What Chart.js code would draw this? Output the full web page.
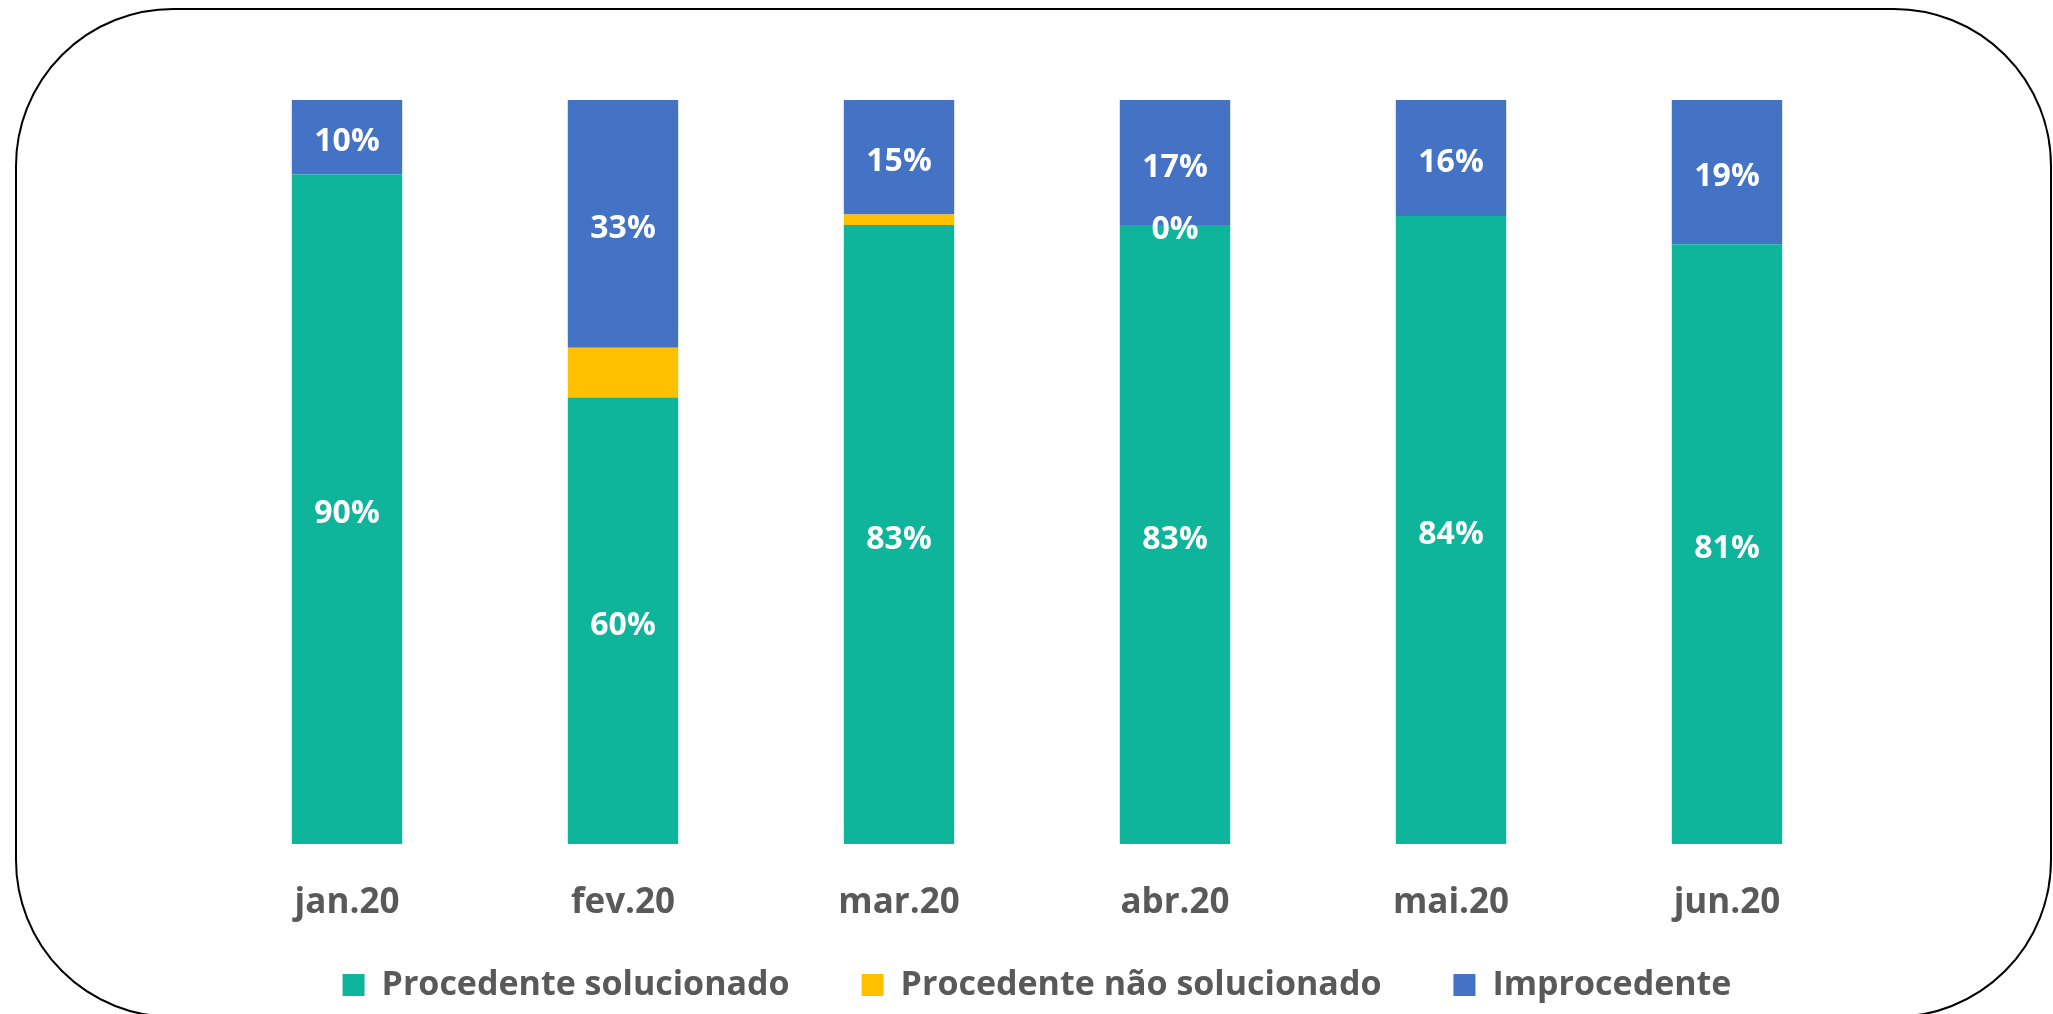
<!DOCTYPE html>
<html>
<head>
<meta charset="utf-8">
<script src="https://cdn.jsdelivr.net/npm/chart.js@4/dist/chart.umd.min.js"></script>
<style>
  html, body { margin: 0; padding: 0; background: #fff; }
  #wrap { position: relative; width: 2053px; height: 1014px; overflow: hidden; }
  #moldura {
    position: absolute; left: 15px; top: 8px; width: 2037px; height: 1010px;
    border: 2.5px solid #000; border-radius: 158px; box-sizing: border-box;
    pointer-events: none;
  }
</style>
</head>
<body>
<div id="wrap">
  <canvas id="grafico" width="2053" height="1014"></canvas>
  <div id="moldura"></div>
</div>
<script>
const meses = ['jan.20', 'fev.20', 'mar.20', 'abr.20', 'mai.20', 'jun.20'];
const procSolucionado = [90, 60, 83.2, 83.2, 84.4, 80.6];
const procNaoSolucionado = [null, 6.7, 1.4, 0, null, null];
const improcedente = [10, 33.3, 15.4, 16.8, 15.6, 19.4];
// only the 0% of abr.20 shows a label on the yellow series
const mostrarRotuloNaoSol = [false, false, false, true, false, false];

const cinza = '#595959';
const fonte = '"Open Sans", "Noto Sans", sans-serif';

const rotulos = {
  id: 'rotulos',
  afterDatasetsDraw(chart) {
    const ctx = chart.ctx;
    ctx.save();
    ctx.font = 'bold 32px ' + fonte;
    ctx.fillStyle = '#fff';
    ctx.textAlign = 'center';
    ctx.textBaseline = 'middle';
    chart.data.datasets.forEach((ds, i) => {
      const meta = chart.getDatasetMeta(i);
      meta.data.forEach((bar, j) => {
        const v = ds.data[j];
        if (v === null || v === undefined) return;
        if (i === 1 && !mostrarRotuloNaoSol[j]) return;
        const y = (bar.y + bar.base) / 2 + 5;
        ctx.fillText(Math.round(v) + '%', bar.x, y);
      });
    });
    ctx.restore();
  }
};

// the legend's wide item padding also pads it vertically, so let the
// x axis labels run down into that empty space instead of being clipped
const eixoMaisAlto = {
  id: 'eixoMaisAlto',
  afterLayout(chart) {
    chart.scales.x.bottom = chart.scales.x.top + 100;
  }
};

new Chart(document.getElementById('grafico'), {
  type: 'bar',
  data: {
    labels: meses,
    datasets: [
      { label: 'Procedente solucionado', data: procSolucionado, backgroundColor: '#0EB59A' },
      { label: 'Procedente não solucionado', data: procNaoSolucionado, backgroundColor: '#FFC000' },
      { label: 'Improcedente', data: improcedente, backgroundColor: '#4472C4' }
    ]
  },
  options: {
    responsive: false,
    animation: false,
    layout: { padding: { top: 100, left: 209, right: 188, bottom: 2 } },
    datasets: { bar: { categoryPercentage: 1, barPercentage: 0.4 } },
    scales: {
      x: {
        stacked: true,
        grid: { display: false },
        border: { display: false },
        ticks: { color: cinza, font: { family: fonte, size: 35, weight: 'bold' }, padding: 30 },
        afterFit(scale) { scale.height = 52; }
      },
      y: { stacked: true, display: false, min: 0, max: 100 }
    },
    plugins: {
      legend: {
        position: 'bottom',
        labels: {
          boxWidth: 22, boxHeight: 22, padding: 72,
          color: cinza,
          font: { family: fonte, size: 34, weight: 'bold' }
        }
      },
      tooltip: { enabled: false }
    }
  },
  plugins: [rotulos, eixoMaisAlto]
});
</script>
</body>
</html>
